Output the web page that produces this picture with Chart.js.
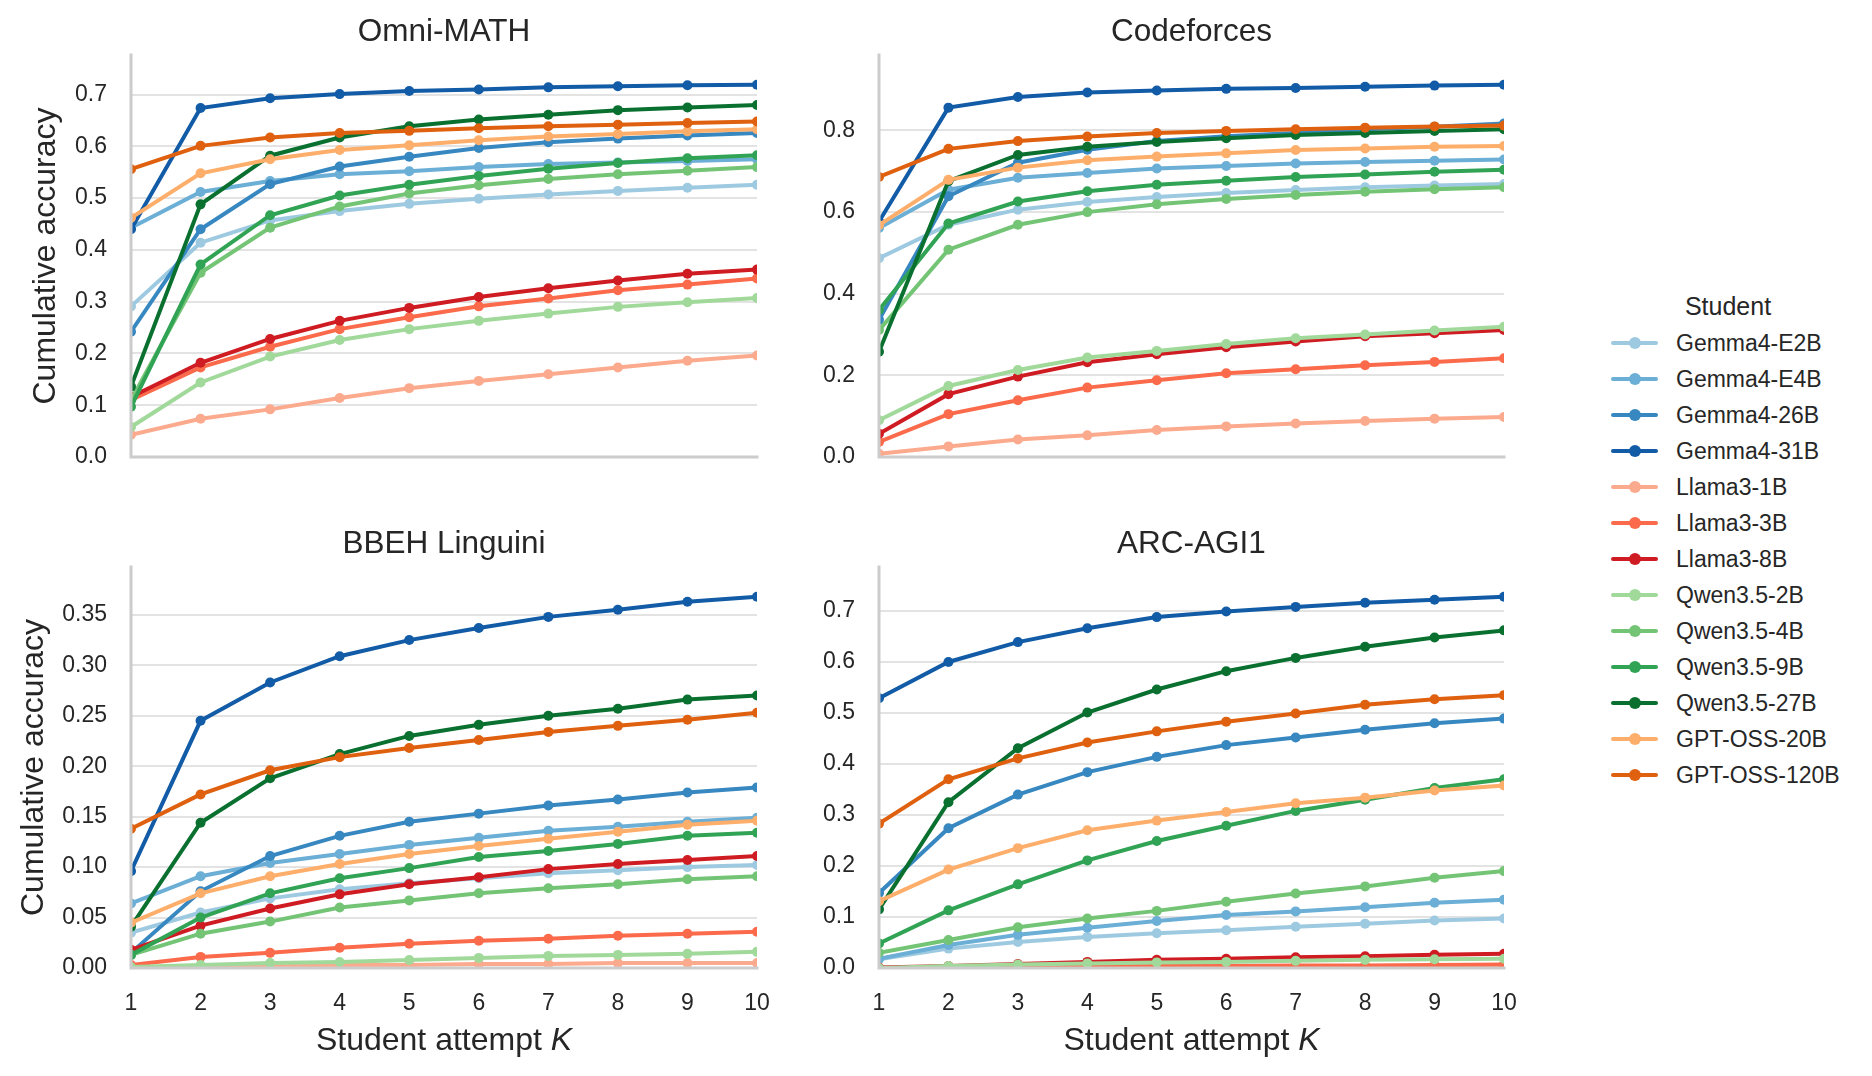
<!DOCTYPE html>
<html>
<head>
<meta charset="utf-8">
<script src="https://cdn.jsdelivr.net/npm/chart.js@4.4.0/dist/chart.umd.min.js"></script>
<style>
  body{margin:0;background:#fff;font-family:"Liberation Sans",Arial,sans-serif;}
  #wrap{position:relative;width:1872px;height:1076px;overflow:hidden;}
  canvas{position:absolute;}
  #legendTitle{position:absolute;left:1611px;top:288px;width:234px;height:36px;line-height:36px;text-align:center;font-size:25px;color:#262626;}
  #legend{position:absolute;left:1611px;top:325px;}
  .row{display:flex;align-items:center;height:36px;}
  .sw{position:relative;width:47px;height:4.5px;border-radius:2px;}
  .dot{position:absolute;left:17.5px;top:-3.75px;width:12px;height:12px;border-radius:50%;}
  .lab{margin-left:18px;font-size:23px;color:#262626;white-space:nowrap;}
</style>
</head>
<body>
<div id="wrap">
  <canvas id="omni" style="left:0;top:0" width="780" height="480"></canvas>
  <canvas id="codeforces" style="left:780px;top:0" width="780" height="480"></canvas>
  <canvas id="bbeh" style="left:0;top:500px" width="780" height="576"></canvas>
  <canvas id="arc" style="left:780px;top:500px" width="780" height="576"></canvas>
  <div id="legendTitle">Student</div>
  <div id="legend"></div>
</div>
<script>
// ================== DATA ==================
const ks = [1, 2, 3, 4, 5, 6, 7, 8, 9, 10];
const students = ["Gemma4-E2B","Gemma4-E4B","Gemma4-26B","Gemma4-31B","Llama3-1B","Llama3-3B","Llama3-8B",
                  "Qwen3.5-2B","Qwen3.5-4B","Qwen3.5-9B","Qwen3.5-27B","GPT-OSS-20B","GPT-OSS-120B"];
const colors = ["#9ecae1","#6baed6","#3787c0","#125ba6","#fcaa8d","#fb6a4a","#cf1c22",
                "#a1d99b","#74c476","#31a354","#0a7030","#fdae6b","#df600e"];

// rows follow the students order
const omniMath = [
  [0.291,0.414,0.457,0.475,0.489,0.499,0.507,0.514,0.520,0.526],
  [0.443,0.512,0.533,0.546,0.552,0.560,0.566,0.569,0.572,0.575],
  [0.242,0.440,0.527,0.561,0.580,0.597,0.608,0.615,0.621,0.626],
  [0.440,0.674,0.693,0.701,0.707,0.710,0.714,0.716,0.718,0.719],
  [0.043,0.074,0.092,0.114,0.133,0.147,0.160,0.173,0.186,0.196],
  [0.110,0.173,0.213,0.247,0.270,0.291,0.306,0.322,0.333,0.345],
  [0.116,0.182,0.228,0.263,0.288,0.309,0.326,0.341,0.354,0.362],
  [0.058,0.144,0.194,0.226,0.247,0.263,0.277,0.290,0.299,0.307],
  [0.110,0.356,0.443,0.484,0.509,0.525,0.537,0.546,0.553,0.560],
  [0.097,0.372,0.467,0.505,0.526,0.543,0.557,0.568,0.577,0.583],
  [0.136,0.488,0.582,0.617,0.639,0.652,0.661,0.670,0.675,0.680],
  [0.462,0.548,0.575,0.593,0.602,0.612,0.619,0.624,0.629,0.633],
  [0.556,0.601,0.617,0.626,0.630,0.635,0.639,0.642,0.645,0.648]
];
const codeforces = [
  [0.487,0.569,0.606,0.625,0.637,0.647,0.654,0.661,0.665,0.669],
  [0.561,0.655,0.684,0.696,0.707,0.713,0.719,0.723,0.726,0.729],
  [0.336,0.639,0.721,0.753,0.774,0.786,0.794,0.803,0.809,0.817],
  [0.577,0.856,0.882,0.893,0.898,0.902,0.904,0.907,0.910,0.912],
  [0.008,0.026,0.043,0.053,0.066,0.075,0.082,0.088,0.094,0.098],
  [0.037,0.105,0.139,0.170,0.188,0.205,0.215,0.225,0.233,0.242],
  [0.057,0.154,0.197,0.232,0.252,0.269,0.283,0.296,0.303,0.311],
  [0.090,0.174,0.213,0.244,0.260,0.277,0.291,0.300,0.310,0.319],
  [0.311,0.508,0.569,0.600,0.619,0.632,0.642,0.650,0.656,0.661],
  [0.360,0.572,0.626,0.651,0.667,0.677,0.686,0.692,0.699,0.704],
  [0.258,0.676,0.740,0.760,0.772,0.781,0.789,0.794,0.799,0.803],
  [0.568,0.679,0.709,0.727,0.736,0.744,0.752,0.756,0.760,0.762],
  [0.686,0.755,0.774,0.785,0.794,0.799,0.803,0.807,0.810,0.812]
];
const bbehLinguini = [
  [0.035,0.055,0.069,0.078,0.084,0.089,0.094,0.097,0.100,0.102],
  [0.064,0.091,0.104,0.113,0.122,0.129,0.136,0.140,0.145,0.149],
  [0.015,0.076,0.111,0.131,0.145,0.153,0.161,0.167,0.174,0.179],
  [0.096,0.245,0.283,0.309,0.325,0.337,0.348,0.355,0.363,0.368],
  [0.000,0.001,0.002,0.003,0.003,0.004,0.004,0.005,0.005,0.005],
  [0.003,0.011,0.015,0.020,0.024,0.027,0.029,0.032,0.034,0.036],
  [0.018,0.042,0.059,0.073,0.083,0.090,0.098,0.103,0.107,0.111],
  [0.001,0.003,0.005,0.006,0.008,0.010,0.012,0.013,0.014,0.016],
  [0.013,0.034,0.046,0.060,0.067,0.074,0.079,0.083,0.088,0.091],
  [0.013,0.050,0.074,0.089,0.099,0.110,0.116,0.123,0.131,0.134],
  [0.041,0.144,0.188,0.212,0.230,0.241,0.250,0.257,0.266,0.270],
  [0.045,0.074,0.091,0.103,0.113,0.121,0.128,0.135,0.142,0.146],
  [0.138,0.172,0.196,0.209,0.218,0.226,0.234,0.240,0.246,0.253]
];
const arcAgi1 = [
  [0.017,0.038,0.051,0.061,0.068,0.074,0.081,0.087,0.093,0.097],
  [0.018,0.045,0.065,0.079,0.092,0.104,0.111,0.119,0.128,0.134],
  [0.147,0.274,0.340,0.384,0.414,0.437,0.452,0.467,0.480,0.489],
  [0.529,0.600,0.639,0.666,0.688,0.699,0.708,0.716,0.722,0.728],
  [0.000,0.001,0.001,0.001,0.002,0.002,0.002,0.003,0.003,0.003],
  [0.000,0.001,0.002,0.003,0.004,0.004,0.005,0.005,0.006,0.007],
  [0.001,0.004,0.008,0.012,0.016,0.018,0.021,0.023,0.026,0.028],
  [0.000,0.004,0.007,0.009,0.011,0.012,0.014,0.016,0.017,0.018],
  [0.030,0.055,0.080,0.097,0.112,0.130,0.146,0.160,0.177,0.190],
  [0.048,0.113,0.164,0.211,0.249,0.279,0.308,0.330,0.353,0.370],
  [0.115,0.325,0.431,0.501,0.546,0.582,0.608,0.630,0.648,0.662],
  [0.131,0.193,0.235,0.270,0.289,0.306,0.323,0.334,0.348,0.358],
  [0.283,0.370,0.411,0.442,0.464,0.483,0.499,0.516,0.527,0.535]
];

// ================== STYLE ==================
const FONT = '"Liberation Sans", Arial, sans-serif';
const INK = "#262626";
const SPINE = "#cccccc";

// spines on top of lines + titles (with italic K)
const decor = {
  id: "decor",
  afterDatasetsDraw(chart, args, o){
    const {ctx, chartArea: a} = chart;
    ctx.save();
    ctx.strokeStyle = SPINE; ctx.lineWidth = 3; ctx.lineCap = "square";
    ctx.beginPath();
    ctx.moveTo(a.left, a.top); ctx.lineTo(a.left, a.bottom);
    ctx.moveTo(a.left, a.bottom); ctx.lineTo(a.right, a.bottom);
    ctx.stroke();
    ctx.restore();
  },
  afterDraw(chart, args, o){
    const {ctx, chartArea: a} = chart;
    const cx = (a.left + a.right) / 2;
    ctx.save();
    ctx.fillStyle = INK;
    ctx.textAlign = "center";
    ctx.textBaseline = "alphabetic";
    ctx.font = `31.5px ${FONT}`;
    ctx.fillText(o.title, cx, a.top - 14);
    if(o.yTitleX){
      ctx.save();
      ctx.translate(o.yTitleX, (a.top + a.bottom) / 2);
      ctx.rotate(-Math.PI / 2);
      ctx.font = `32px ${FONT}`;
      ctx.fillText("Cumulative accuracy", 0, 0);
      ctx.restore();
    }
    if(o.xTitle){
      ctx.font = `32px ${FONT}`;
      const w1 = ctx.measureText("Student attempt ").width;
      ctx.font = `italic 32px ${FONT}`;
      const w2 = ctx.measureText("K").width;
      const x0 = cx - (w1 + w2) / 2;
      ctx.textAlign = "left";
      ctx.font = `32px ${FONT}`;
      ctx.fillText("Student attempt ", x0, a.bottom + 82);
      ctx.font = `italic 32px ${FONT}`;
      ctx.fillText("K", x0 + w1, a.bottom + 82);
    }
    ctx.restore();
  }
};

// ================== PANELS ==================
function makePanel(id, rows, o){
  const ymax = Math.max(...rows.flat()) * 1.08;
  return new Chart(document.getElementById(id), {
    type: "line",
    data: {
      datasets: students.map((name, i) => ({
        label: name,
        data: ks.map((k, j) => ({x: k, y: rows[i][j]})),
        borderColor: colors[i],
        backgroundColor: colors[i],
        pointBackgroundColor: colors[i],
        pointBorderWidth: 0,
        pointRadius: 5,
        pointHoverRadius: 5,
        borderWidth: 4,
        tension: 0,
        clip: 0,
        order: students.length - i
      }))
    },
    options: {
      responsive: false,
      animation: false,
      devicePixelRatio: 1,
      layout: {padding: {top: o.padTop, right: o.padRight, left: 0, bottom: 0}},
      plugins: {
        legend: {display: false},
        tooltip: {enabled: false},
        decor: {title: o.title, yTitleX: o.yTitleX, xTitle: o.xTitle}
      },
      scales: {
        x: {
          type: "linear", min: 1, max: 10,
          afterFit(s){ s.height = o.xHeight; s.paddingLeft = 0; s.paddingRight = 0; },
          grid: {display: false, drawTicks: false},
          border: {display: false},
          ticks: {display: o.xTitle, stepSize: 1, padding: 22, color: INK, font: {family: FONT, size: 23}}
        },
        y: {
          min: 0, max: ymax,
          afterFit(s){ s.width = o.yWidth; s.paddingTop = 0; s.paddingBottom = 0; },
          grid: {color: "#e3e3e3", lineWidth: 2, drawTicks: false},
          border: {display: false},
          ticks: {stepSize: o.step, includeBounds: false, padding: 24, color: INK,
                  font: {family: FONT, size: 23}, callback: v => v.toFixed(o.dec)}
        }
      }
    },
    plugins: [decor]
  });
}

makePanel("omni", omniMath, {title: "Omni-MATH", padTop: 55, padRight: 23, xHeight: 23, yWidth: 131,
  step: 0.1, dec: 1, yTitleX: 55, xTitle: false});
makePanel("codeforces", codeforces, {title: "Codeforces", padTop: 55, padRight: 56, xHeight: 23, yWidth: 99,
  step: 0.2, dec: 1, yTitleX: 0, xTitle: false});
makePanel("bbeh", bbehLinguini, {title: "BBEH Linguini", padTop: 67, padRight: 23, xHeight: 108, yWidth: 131,
  step: 0.05, dec: 2, yTitleX: 43, xTitle: true});
makePanel("arc", arcAgi1, {title: "ARC-AGI1", padTop: 67, padRight: 56, xHeight: 108, yWidth: 99,
  step: 0.1, dec: 1, yTitleX: 0, xTitle: true});

// ================== LEGEND ==================
const legend = document.getElementById("legend");
students.forEach((name, i) => {
  const row = document.createElement("div");
  row.className = "row";
  row.innerHTML = `<span class="sw" style="background:${colors[i]}"><span class="dot" style="background:${colors[i]}"></span></span><span class="lab">${name}</span>`;
  legend.appendChild(row);
});
</script>
</body>
</html>
